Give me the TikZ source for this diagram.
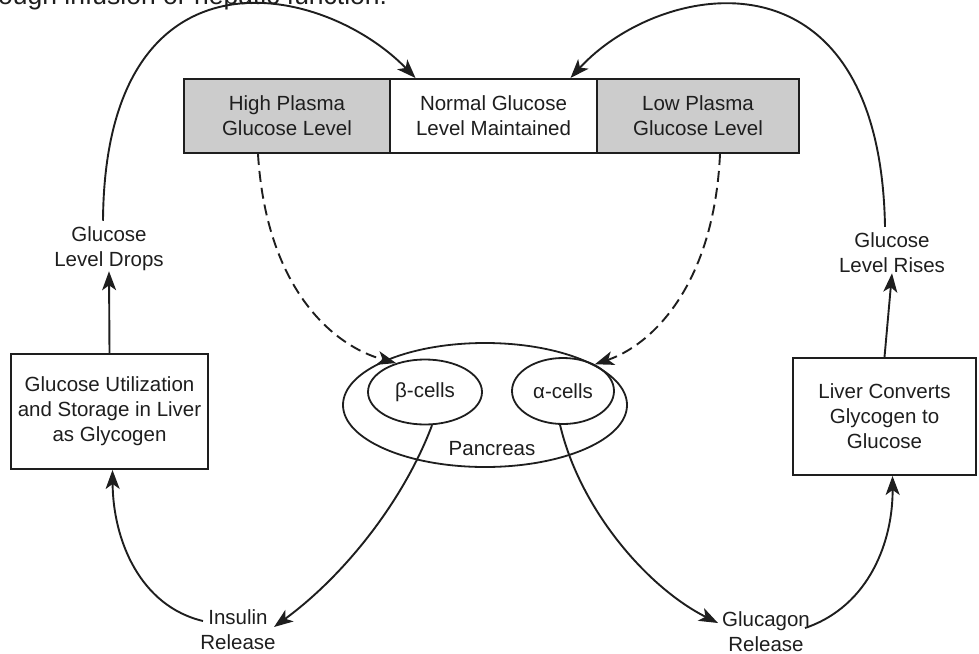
\documentclass[tikz,border=0pt]{standalone}
\usepackage{fontspec}
\setmainfont{Liberation Sans}
\usetikzlibrary{arrows.meta,shapes.geometric}

\definecolor{ink}{RGB}{30,30,30}
\definecolor{cellgray}{RGB}{204,204,204}

\tikzset{
  lbl/.style={align=center,font=\fontsize{20.5}{25}\selectfont,text=ink,inner sep=0pt},
  cell/.style={draw=ink,line width=2pt,minimum height=74pt,inner sep=0pt,align=center,
               font=\fontsize{20.5}{25}\selectfont,text=ink},
  sidebox/.style={draw=ink,line width=1.9pt,inner sep=0pt,align=center,
               font=\fontsize{20.5}{25}\selectfont,text=ink},
  oval/.style={draw=ink,line width=1.8pt,ellipse,inner sep=0pt},
  flow/.style={draw=ink,line width=1.9pt,-{Stealth[length=19pt,width=14pt,inset=5pt]}},
  dashflow/.style={flow,dash pattern=on 11pt off 6pt}
}

\begin{document}
\begin{tikzpicture}[x=1pt,y=-1pt]
\useasboundingbox (0,0) rectangle (979,653);
\clip (0,0) rectangle (979,653);

% running text of the page above the figure
\node[anchor=base west,inner sep=0pt,font=\fontsize{26.5}{30}\selectfont,text=ink]
  (caption) at (-2,5) {ough infusion or hepatic function.};

% plasma glucose bar
\node[cell,fill=cellgray,minimum width=206pt] (high) at (287,116) {High Plasma\\Glucose Level};
\node[cell,fill=white,minimum width=207pt] (normal) at (493.5,116) {Normal Glucose\\Level Maintained};
\node[cell,fill=cellgray,minimum width=202pt] (low) at (698,116) {Low Plasma\\Glucose Level};

% liver boxes
\node[sidebox,minimum width=197pt,minimum height=115pt] (store) at (109.5,411.5)
  {Glucose Utilization\\and Storage in Liver\\as Glycogen};
\node[sidebox,minimum width=183pt,minimum height=117pt] (convert) at (884.5,416.5)
  {Liver Converts\\Glycogen to\\Glucose};

% pancreas and islet cells
\node[oval,minimum width=284pt,minimum height=124pt] (pancreas) at (485,405) {};
\node[lbl,anchor=base] (pname) at (492,455) {Pancreas};
\node[oval,minimum width=114pt,minimum height=65pt] (beta) at (425,392) {};
\node[lbl] at (beta) {β-cells};
\node[oval,minimum width=102pt,minimum height=66pt] (alpha) at (563,391) {};
\node[lbl] at (alpha) {α-cells};

% outcome labels
\node[lbl] (drops) at (109,249) {Glucose\\Level Drops};
\node[lbl] (rises) at (892,253) {Glucose\\Level Rises};
\node[lbl] (insulin) at (238,630) {Insulin\\Release};
\node[lbl] (glucagon) at (766,632) {Glucagon\\Release};

% stimulus of the islet cells
\draw[dashflow] ([xshift=-29pt]high.south) .. controls (266,285) and (330,345) .. (beta.135);
\draw[dashflow] ([xshift=22pt]low.south) .. controls (714,285) and (652,345) .. (alpha.40);

% hormone release
\draw[flow] (beta.282) .. controls (404,500) and (345,575) .. ([xshift=36pt,yshift=3pt]insulin.center);
\draw[flow] (alpha.265) .. controls (580,510) and (648,588) .. ([xshift=-48pt,yshift=9pt]glucagon.center);

% action on the liver
\draw[flow] ([xshift=-35pt,yshift=9pt]insulin.center) .. controls (140,606) and (113,540) .. ([xshift=3pt]store.south);
\draw[flow] ([xshift=39pt,yshift=4pt]glucagon.center) .. controls (870,606) and (893,540) .. ([xshift=8pt]convert.south);

\draw[flow] (store.north) -- (drops.south);
\draw[flow] (convert.north) -- (rises.south);

% return to normal level
\draw[flow] ([xshift=-6pt,yshift=6pt]drops.north) .. controls (105,-60) and (320,-20) .. ([xshift=-78pt]normal.north);
\draw[flow] ([xshift=-7pt,yshift=6pt]rises.north) .. controls (880,-60) and (660,-20) .. ([xshift=77pt]normal.north);
\end{tikzpicture}
\end{document}
